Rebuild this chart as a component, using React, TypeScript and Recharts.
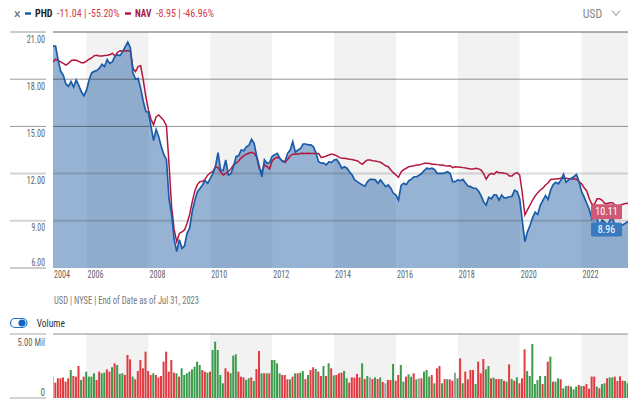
import React from "react";
import {
  ComposedChart,
  Area,
  Line,
  XAxis,
  YAxis,
  ReferenceArea,
  ReferenceLine,
  ReferenceDot,
  BarChart,
  Bar,
  Cell,
} from "recharts";

const FONT =
  '"Roboto Condensed", "Liberation Sans Narrow", "DejaVu Sans Condensed", Roboto, sans-serif';

// monthly series, first point is Dec 2004
const FIRST_YEAR = 2004;
const FIRST_MONTH = 12;

// PHD market price (USD)
const PHD_CLOSE = [
  20.1, 20.1, 19.2, 18.5, 18.25, 17.7, 17.55, 17.85, 17.5, 17.95, 17.6, 17.2,
  16.95, 17.3, 17.95, 18.4, 18.5, 18.55, 18.7, 18.95, 18.8, 19.25, 19.0, 19.1,
  19.45, 19.55, 19.5, 19.75, 20.05, 20.35, 20.0, 18.4, 18.0, 18.05, 17.4, 16.6,
  15.95, 15.9, 15.0, 14.1, 14.8, 14.35, 13.7, 13.2, 12.9, 10.4, 9.4, 7.8,
  7.05, 7.8, 7.25, 7.4, 8.2, 8.55, 9.6, 10.3, 10.85, 11.05, 11.28, 11.55,
  11.38, 11.7, 12.0, 12.45, 13.33, 12.23, 12.2, 12.87, 11.9, 12.0, 12.45, 13.08,
  13.15, 13.5, 13.45, 13.7, 13.8, 14.18, 13.93, 13.1, 12.45, 11.8, 12.87, 12.66,
  12.7, 13.1, 13.2, 13.29, 12.97, 12.76, 12.8, 13.29, 13.5, 14.03, 13.35, 13.5,
  13.6, 13.88, 13.88, 13.83, 13.83, 13.7, 13.3, 12.76, 12.66, 12.66, 12.55, 12.76,
  12.7, 12.87, 12.9, 12.66, 12.34, 12.44, 12.34, 12.12, 11.91, 11.6, 11.49, 11.38,
  11.28, 11.2, 11.5, 11.63, 11.63, 11.6, 11.38, 11.6, 11.38, 11.17, 11.28, 11.07,
  10.75, 10.64, 10.32, 11.25, 11.38, 11.3, 11.55, 11.65, 11.8, 11.8, 11.9, 12.02,
  12.2, 12.34, 12.3, 12.34, 12.25, 12.02, 12.02, 12.02, 12.05, 12.12, 12.02, 11.49,
  11.49, 11.6, 11.55, 11.63, 11.4, 11.2, 11.17, 11.07, 11.07, 10.9, 10.6, 10.2,
  10.0, 10.5, 10.4, 10.65, 10.64, 10.32, 10.64, 10.45, 10.47, 10.53, 10.55, 10.95,
  10.85, 10.4, 9.0, 7.67, 8.3, 8.7, 9.2, 9.55, 9.4, 10.0, 10.3, 10.6,
  10.35, 10.96, 11.3, 11.45, 11.35, 11.6, 11.95, 11.45, 11.6, 11.7, 11.8, 11.95,
  11.5, 10.85, 10.5, 10.1, 9.7, 9.1, 9.3, 9.1, 8.7, 9.05, 8.9, 8.65,
  9.05, 9.2, 8.65, 8.45, 8.65, 8.75, 8.85, 8.96,
];

// NAV (USD)
const NAV_VALUE = [
  19.1, 19.27, 19.2, 19.1, 19.0, 18.9, 19.0, 19.18, 19.22, 19.2, 19.13, 19.05,
  19.05, 19.15, 19.27, 19.35, 19.5, 19.52, 19.48, 19.48, 19.5, 19.52, 19.55, 19.65,
  19.48, 19.7, 19.81, 19.8, 19.8, 19.81, 19.81, 18.7, 18.48, 18.8, 18.85, 17.95,
  16.9, 16.05, 15.45, 15.1, 15.62, 15.73, 15.55, 15.37, 15.03, 12.6, 9.9, 8.42,
  7.67, 8.2, 8.3, 8.42, 8.84, 9.4, 10.2, 10.9, 11.3, 11.49, 11.49, 11.65,
  11.9, 12.05, 12.12, 12.44, 12.38, 12.12, 11.91, 12.02, 12.12, 12.3, 12.55, 12.66,
  12.8, 13.0, 13.12, 13.23, 13.29, 13.35, 13.29, 13.05, 12.3, 12.12, 12.55, 12.44,
  12.3, 12.82, 12.97, 13.03, 12.97, 12.82, 12.7, 12.91, 13.12, 13.23, 13.23, 13.25,
  13.27, 13.29, 13.28, 13.29, 13.28, 13.27, 13.27, 13.27, 13.03, 13.05, 13.12, 13.18,
  13.25, 13.2, 13.14, 13.03, 12.97, 12.97, 12.95, 12.91, 12.9, 12.85, 12.82, 12.7,
  12.59, 12.76, 12.87, 12.87, 12.82, 12.8, 12.76, 12.72, 12.62, 12.5, 12.44, 12.23,
  12.06, 11.91, 11.76, 12.1, 12.25, 12.34, 12.44, 12.47, 12.5, 12.55, 12.55, 12.6,
  12.66, 12.66, 12.64, 12.6, 12.6, 12.57, 12.55, 12.55, 12.5, 12.48, 12.5, 12.38,
  12.44, 12.42, 12.4, 12.38, 12.35, 12.32, 12.3, 12.3, 12.34, 12.3, 12.23, 12.0,
  11.64, 11.91, 12.02, 11.95, 12.12, 12.06, 12.06, 12.02, 12.0, 11.85, 11.85, 12.0,
  12.06, 11.91, 10.75, 9.37, 9.69, 10.0, 10.32, 10.58, 10.79, 10.96, 11.07, 11.28,
  11.4, 11.62, 11.64, 11.66, 11.68, 11.7, 11.7, 11.7, 11.68, 11.66, 11.65, 11.64,
  11.49, 11.35, 11.1, 10.9, 10.4, 10.05, 10.05, 10.4, 10.4, 10.3, 10.1, 10.1,
  10.15, 10.15, 10.0, 9.85, 10.0, 10.05, 10.1, 10.11,
];

// monthly volume, millions of shares
const VOLUME_MIL = [
  1.67, 1.2, 1.54, 1.54, 1.61, 1.28, 1.54, 2.19, 1.72, 1.67,
  2.5, 1.41, 1.67, 2.06, 1.67, 1.67, 1.93, 1.41, 2.06, 1.93,
  1.98, 2.24, 2.06, 2.4, 2.71, 2.58, 1.88, 1.93, 1.8, 3.36,
  3.02, 1.67, 1.46, 2.11, 2.97, 2.32, 3.62, 2.11, 1.8, 1.93,
  1.8, 1.61, 1.72, 2.84, 3.62, 2.06, 2.97, 1.98, 1.93, 1.67,
  2.32, 1.8, 1.93, 2.06, 2.24, 2.45, 2.84, 2.58, 2.19, 2.06,
  1.98, 2.06, 3.75, 4.4, 3.75, 1.8, 1.15, 2.32, 2.06, 1.93,
  3.31, 3.41, 2.06, 1.67, 1.61, 1.41, 1.54, 1.61, 1.33, 2.27,
  3.67, 1.93, 1.93, 1.93, 1.93, 2.97, 2.97, 2.71, 1.93, 1.8,
  1.8, 1.46, 1.46, 1.67, 1.93, 1.93, 1.98, 2.11, 1.48, 1.8,
  2.19, 2.4, 2.27,
  2.06, 1.72, 2.5, 1.72, 2.71, 2.32, 1.77, 1.8, 1.93, 1.98,
  2.11, 1.54, 1.2, 1.61, 1.59, 1.88, 1.61, 2.71, 1.48, 1.72,
  1.61, 1.48, 1.61, 1.48, 1.61, 1.25, 1.15, 1.41, 1.41, 2.66,
  1.35, 1.8, 2.58, 1.28, 1.67, 1.85, 1.67, 1.93, 1.46, 1.54,
  1.54, 2.06, 2.19, 1.67, 1.8, 1.15, 2.32, 2.5, 1.15, 1.48,
  1.46, 1.46, 1.35, 1.98, 1.54, 3.1, 1.15, 2.06, 1.46, 2.19,
  2.19, 1.09, 2.84, 1.93, 3.05, 2.24, 2.5, 1.54, 1.59, 1.48,
  1.48, 1.48, 1.35, 1.28, 2.63, 1.48, 1.35, 1.61, 1.15, 1.54,
  3.8, 2.11, 1.72, 4.22, 1.09, 1.41, 1.72, 1.09, 1.72, 2.84,
  3.23, 1.28, 1.28, 1.54, 1.46, 0.76, 0.94, 0.96, 0.89, 0.68,
  0.89, 1.02, 0.94, 0.94, 1.09, 0.73, 1.67, 1.67, 0.89, 0.76,
  1.09, 1.15, 1.54, 1.61, 1.61, 1.67, 1.33, 1.69, 1.35, 1.33,
  1.15,
];

// g = up month, r = down month, n = unchanged
const VOLUME_TONE = (
  "nrrrrrrgrr" + "rgrggggrrg" + "grrgrgggrr" + "rgrrrrrrrg" + "rrrrrrrrgr" +
  "ggggggggrr" + "grgggggrrg" + "ggrrrggrgr" + "rgrgrggggr" + "rrgrgrggrg" +
  "rrg" +
  "rrgrgrgrrr" + "ggrrrrrgrg" + "nrgrgrnrrg" + "rrggrggrgn" + "rgggrgrrgr" +
  "grrngrgrrr" + "rgrrrggrgr" + "rgrgrgrgrr" + "rggggggrgr" + "grggrggrgg" +
  "grgrrrrrgr" + "ggrggrrrrg" + "g"
).split("");

const YEAR_TICKS = [2006, 2008, 2010, 2012, 2014, 2016, 2018, 2020, 2022];
const SHADED_YEARS = [
  [2006, 2008],
  [2010, 2012],
  [2014, 2016],
  [2018, 2020],
  [2022, 2024],
];
const PRICE_TICKS = [6, 9, 12, 15, 18, 21];
const VOLUME_TICKS = [0, 5];

const PHD_CHANGE = "-11.04 | -55.20%";
const NAV_CHANGE = "-8.95 | -46.96%";
const FOOTNOTE = "USD | NYSE | End of Date as of Jul 31, 2023";

const T_START = FIRST_YEAR + (FIRST_MONTH - 1) / 12;
const T_END = FIRST_YEAR + (FIRST_MONTH - 1 + PHD_CLOSE.length - 1) / 12;

const rows = PHD_CLOSE.map((phd, i) => ({
  t: FIRST_YEAR + (FIRST_MONTH - 1 + i) / 12,
  phd,
  nav: NAV_VALUE[i],
  vol: VOLUME_MIL[i],
  tone: VOLUME_TONE[i],
}));

const BLUE = "#1b5caa";
const CRIMSON = "#b3163f";
const TONE_COLOR: Record<string, string> = {
  g: "#3a9b4c",
  r: "#e13a40",
  n: "#9c9c9c",
};

function PriceTick({ y, payload }: any) {
  const v = payload.value;
  const soft = v === 9 || v === 12;
  return (
    <g>
      <line
        x1={10}
        x2={46}
        y1={y}
        y2={y}
        stroke={soft ? "#d4d4d4" : "#9a9a9a"}
        strokeWidth={soft ? 2 : 1}
      />
      <text
        x={45}
        y={v === 6 ? y - 6 : y + 7}
        textAnchor="end"
        dominantBaseline="central"
        fontSize={10}
        fill="#666"
        textLength={v >= 10 ? 18.3 : 13.5}
        lengthAdjust="spacingAndGlyphs"
      >
        {v.toFixed(2)}
      </text>
    </g>
  );
}

function YearTick({ x, payload }: any) {
  return (
    <text
      x={x + 1}
      y={274}
      dominantBaseline="central"
      fontSize={10}
      fill="#666"
      textLength={16}
      lengthAdjust="spacingAndGlyphs"
    >
      {Math.floor(payload.value + 1e-6)}
    </text>
  );
}

function VolumeTick({ y, payload }: any) {
  const v = payload.value;
  const label = v === 0 ? "0" : `${v.toFixed(2)} Mil`;
  return (
    <g>
      <line x1={10} x2={46} y1={y} y2={y} stroke="#a8a8a8" strokeWidth={1} />
      <text
        x={45}
        y={v === 0 ? y - 6 : y + 8}
        textAnchor="end"
        dominantBaseline="central"
        fontSize={10}
        fill="#666"
        textLength={v === 0 ? 4.5 : 27.4}
        lengthAdjust="spacingAndGlyphs"
      >
        {label}
      </text>
    </g>
  );
}

function endTag(fill: string, value: number, h: number) {
  return (props: any) => {
    const { cx, cy } = props;
    return (
      <g>
        <rect x={cx - 37} y={cy + 1} width={31} height={h} rx={1.5} fill={fill} />
        <text
          x={cx - 21.5}
          y={cy + 1 + h / 2}
          textAnchor="middle"
          dominantBaseline="central"
          fontSize={10}
          fill="#fff"
          fontFamily={FONT}
        >
          {value.toFixed(2)}
        </text>
      </g>
    );
  };
}

export default function App() {
  const lastPhd = PHD_CLOSE[PHD_CLOSE.length - 1];
  const lastNav = NAV_VALUE[NAV_VALUE.length - 1];

  return (
    <div
      style={{
        position: "absolute",
        left: 0,
        top: 0,
        width: 640,
        height: 418,
        background: "#fff",
        fontFamily: FONT,
        overflow: "hidden",
      }}
    >
      {/* header, footnote, volume toggle */}
      <svg
        width={640}
        height={418}
        style={{ position: "absolute", left: 0, top: 0 }}
        fontFamily={FONT}
      >
        <text x={17.3} y={13.5} textAnchor="middle" dominantBaseline="central" fontSize={15} fill="#777">
          ×
        </text>
        <line x1={25} x2={31} y1={13.5} y2={13.5} stroke={BLUE} strokeWidth={2.5} />
        <text x={35} y={13.5} dominantBaseline="central" fontSize={11} fontWeight={700} fill="#222" textLength={17.5} lengthAdjust="spacingAndGlyphs">
          PHD
        </text>
        <text x={57} y={13.5} dominantBaseline="central" fontSize={11} fill="#d43a46" textLength={62.5} lengthAdjust="spacingAndGlyphs">
          {PHD_CHANGE}
        </text>
        <line x1={125} x2={131} y1={13.5} y2={13.5} stroke={CRIMSON} strokeWidth={2.5} />
        <text x={135} y={13.5} dominantBaseline="central" fontSize={11} fontWeight={700} fill="#a8173f" textLength={16.5} lengthAdjust="spacingAndGlyphs">
          NAV
        </text>
        <text x={156} y={13.5} dominantBaseline="central" fontSize={11} fill="#d43a46" textLength={58} lengthAdjust="spacingAndGlyphs">
          {NAV_CHANGE}
        </text>

        <text x={582.7} y={13.5} dominantBaseline="central" fontSize={12} fill="#888" textLength={19.6} lengthAdjust="spacingAndGlyphs">
          USD
        </text>
        <polyline points="612,10.5 616,15.5 620,10.5" fill="none" stroke="#888" strokeWidth={1} />

        <text x={54} y={300} dominantBaseline="central" fontSize={10} fill="#777" textLength={145} lengthAdjust="spacingAndGlyphs">
          {FOOTNOTE}
        </text>

        <rect x={10.5} y={318.5} width={16.5} height={9} rx={4.5} fill="#fff" stroke="#1a73c8" strokeWidth={1.2} />
        <circle cx={22} cy={323} r={3.6} fill="#1565c0" />
        <text x={36.7} y={323} dominantBaseline="central" fontSize={11} fill="#333" textLength={28.3} lengthAdjust="spacingAndGlyphs">
          Volume
        </text>
      </svg>

      {/* price / NAV */}
      <div style={{ position: "absolute", left: 0, top: 0 }}>
        <ComposedChart
          width={640}
          height={290}
          data={rows}
          margin={{ top: 32, right: 12, bottom: 0, left: 0 }}
        >
          <XAxis
            dataKey="t"
            type="number"
            domain={[T_START, T_END]}
            allowDataOverflow
            ticks={[T_START, ...YEAR_TICKS]}
            tick={<YearTick />}
            axisLine={false}
            tickLine={false}
            height={22}
            interval={0}
          />
          <YAxis
            type="number"
            domain={[6, 21]}
            allowDataOverflow
            ticks={PRICE_TICKS}
            tick={<PriceTick />}
            axisLine={false}
            tickLine={false}
            width={53}
            interval={0}
          />
          {SHADED_YEARS.map(([a, b]) => (
            <ReferenceArea
              key={a}
              x1={a}
              x2={Math.min(b, T_END)}
              fill="#f2f2f2"
              fillOpacity={1}
              stroke="none"
            />
          ))}
          <Area
            dataKey="phd"
            type="linear"
            fill="#0e4f9a"
            fillOpacity={0.43}
            stroke="none"
            isAnimationActive={false}
            activeDot={false}
          />
          {PRICE_TICKS.filter((v) => v > 6).map((v) => {
            const soft = v === 9 || v === 12;
            return (
              <ReferenceLine
                key={v}
                y={v}
                stroke="#000"
                strokeOpacity={soft ? 0.14 : v === 21 ? 0.3 : 0.42}
                strokeWidth={soft || v === 21 ? 2 : 1}
              />
            );
          })}
          <Line
            dataKey="nav"
            type="linear"
            stroke={CRIMSON}
            strokeWidth={1.5}
            dot={false}
            activeDot={false}
            isAnimationActive={false}
          />
          <Line
            dataKey="phd"
            type="linear"
            stroke={BLUE}
            strokeWidth={1.7}
            dot={false}
            activeDot={false}
            isAnimationActive={false}
          />
          <ReferenceDot x={T_END} y={lastNav} r={0} shape={endTag("#cf5876", lastNav, 15)} />
          <ReferenceDot x={T_END} y={lastPhd} r={0} shape={endTag("#3a79bf", lastPhd, 14)} />
        </ComposedChart>
      </div>

      {/* volume */}
      <div style={{ position: "absolute", left: 0, top: 326 }}>
        <BarChart
          width={640}
          height={80}
          data={rows}
          margin={{ top: 8, right: 12, bottom: 8, left: 0 }}
        >
          <XAxis
            dataKey="t"
            type="number"
            domain={[T_START, T_END]}
            allowDataOverflow
            hide
          />
          <YAxis
            type="number"
            domain={[0, 5]}
            allowDataOverflow
            ticks={VOLUME_TICKS}
            tick={<VolumeTick />}
            axisLine={false}
            tickLine={false}
            width={53}
            interval={0}
          />
          {SHADED_YEARS.map(([a, b]) => (
            <ReferenceArea
              key={a}
              x1={a}
              x2={Math.min(b, T_END)}
              fill="#f2f2f2"
              fillOpacity={1}
              stroke="none"
            />
          ))}
          <ReferenceLine y={5} stroke="#000" strokeOpacity={0.3} strokeWidth={1.5} />
          <Bar dataKey="vol" barSize={2} isAnimationActive={false}>
            {rows.map((r, i) => (
              <Cell key={i} fill={TONE_COLOR[r.tone]} />
            ))}
          </Bar>
        </BarChart>
      </div>
    </div>
  );
}
